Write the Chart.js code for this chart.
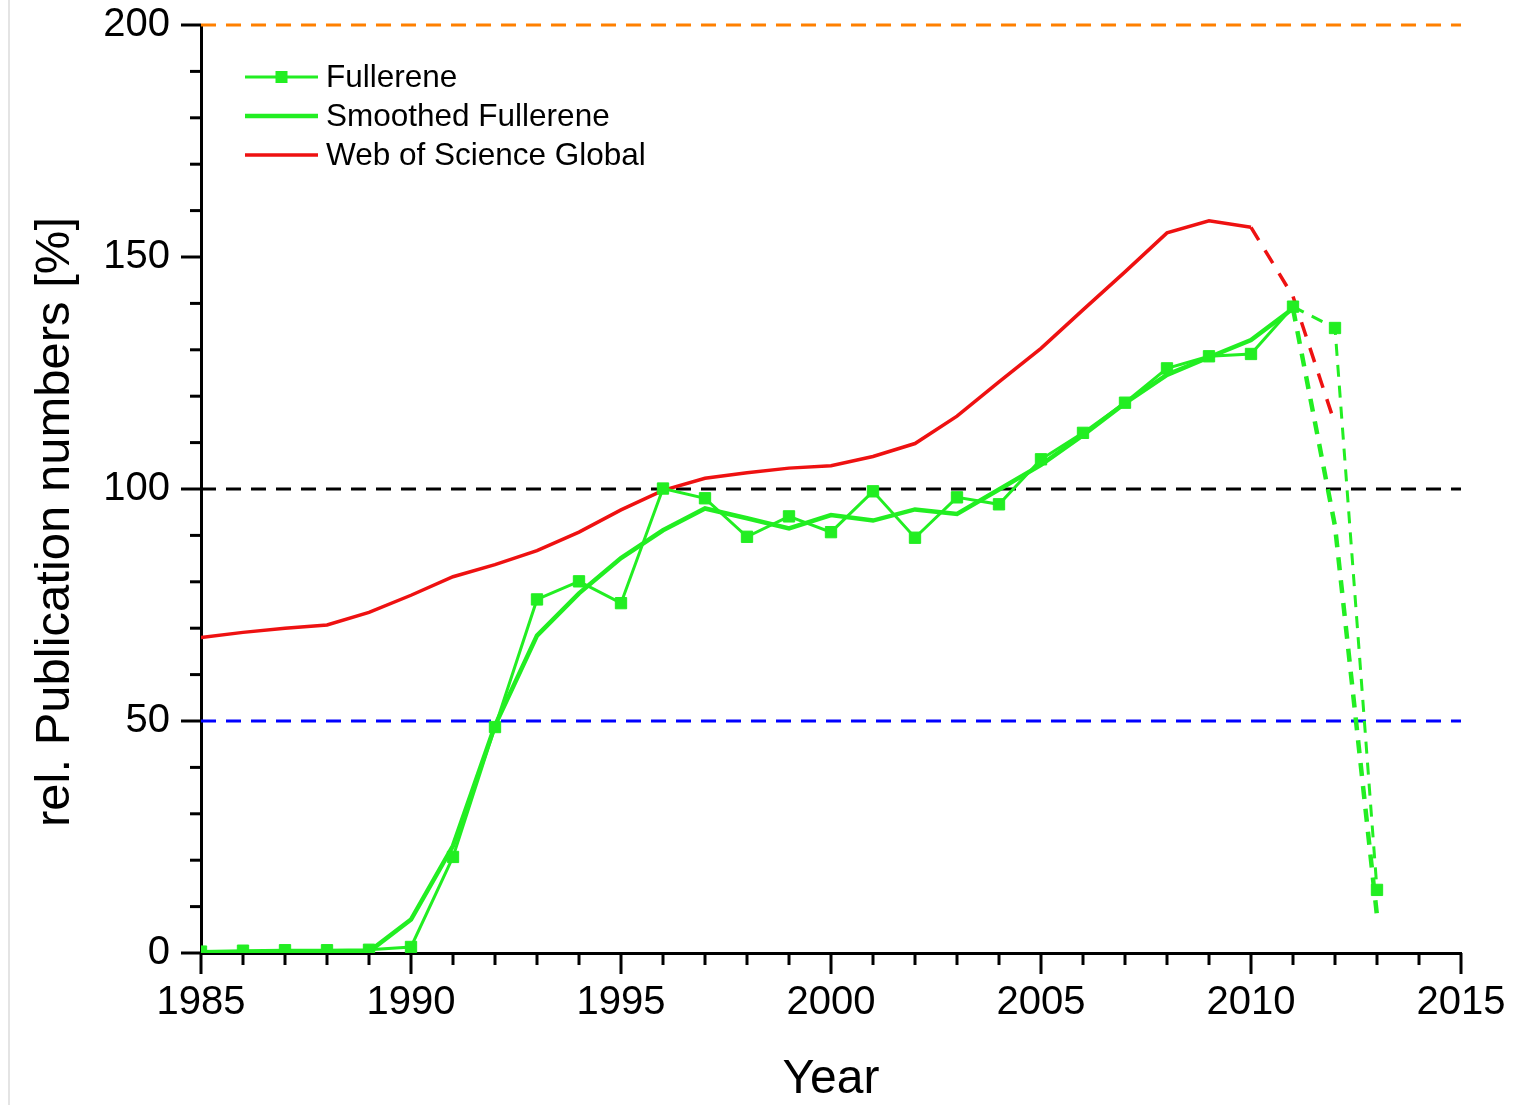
<!DOCTYPE html>
<html>
<head>
<meta charset="utf-8">
<title>rel. Publication numbers</title>
<script src="https://cdn.jsdelivr.net/npm/chart.js@4.4.1/dist/chart.umd.min.js"></script>
<style>
  html, body { margin: 0; padding: 0; background: #fff; }
  #wrap { position: relative; width: 1514px; height: 1105px; }
  #edge { position: absolute; left: 8px; top: 0; width: 2px; height: 1105px; background: #e4e4e4; }
  canvas { position: absolute; left: 0; top: 0; }
</style>
</head>
<body>
<div id="wrap">
  <div id="edge"></div>
  <canvas id="pubChart" width="1514" height="1105"></canvas>
</div>
<script>
// Jahre und Werte
const years = [
    1985, 1986, 1987, 1988, 1989, 1990, 1991, 1992, 1993, 1994,
    1995, 1996, 1997, 1998, 1999, 2000, 2001, 2002, 2003, 2004,
    2005, 2006, 2007, 2008, 2009, 2010, 2011, 2012, 2013
];

const fullerene = [
    0.3, 0.5, 0.6, 0.6, 0.7, 1.3, 20.7, 48.7, 76.2, 80.1,
    75.4, 100.1, 98.0, 89.7, 94.1, 90.7, 99.5, 89.5, 98.2, 96.7,
    106.4, 112.1, 118.6, 126.0, 128.6, 129.1, 139.3, 134.7, 13.6
];

const smoothedFullerene = [
    0, 0, 0, 0, 0.3, 7.2, 23.1, 49.0, 68.4, 77.5,
    85.1, 91.1, 95.8, 93.7, 91.5, 94.4, 93.2, 95.6, 94.6, 99.9,
    105.2, 111.6, 118.5, 124.6, 128.4, 132.1, 138.9, 92, 8
];

// Web of Science endet 2012
const wosGlobal = [
    68.0, 69.1, 70.0, 70.7, 73.4, 77.1, 81.1, 83.7, 86.7, 90.7,
    95.5, 99.7, 102.3, 103.5, 104.5, 105.0, 107.0, 109.8, 115.7, 123.1,
    130.3, 138.6, 146.8, 155.2, 157.8, 156.4, 141.5, 114.0
];

// Referenzlinien
const refLevels = [200, 100, 50];
const refColors = ['#ff8000', '#000000', '#0000ff'];

const xMin = 1985, xMax = 2015;
const yMin = 0, yMax = 200;
const fullereneDashFrom = 2011;
const wosDashFrom = 2010;

const green = '#22ee22';
const red = '#ee1111';
const fontFamily = '"Liberation Sans", Arial, sans-serif';
const yTitle = 'rel. Publication numbers [%]';

function toPoints(values) {
    return values.map((v, i) => ({ x: years[i], y: v }));
}

const legendItems = [
    { label: 'Fullerene', color: green, width: 3, marker: true },
    { label: 'Smoothed Fullerene', color: green, width: 4.5, marker: false },
    { label: 'Web of Science Global', color: red, width: 3.5, marker: false }
];

// Achsen-Ticks (gross/klein) nach aussen
const tickPlugin = {
    id: 'axisTicks',
    afterDraw(chart) {
        const { ctx, chartArea, scales } = chart;
        ctx.save();
        ctx.strokeStyle = '#000';
        ctx.lineWidth = 3;
        for (let yr = xMin; yr <= xMax; yr++) {
            const px = scales.x.getPixelForValue(yr);
            const len = (yr % 5 === 0) ? 21 : 12;
            ctx.beginPath();
            ctx.moveTo(px, chartArea.bottom);
            ctx.lineTo(px, chartArea.bottom + len);
            ctx.stroke();
        }
        for (let v = yMin; v <= yMax; v += 10) {
            const py = scales.y.getPixelForValue(v);
            const len = (v % 50 === 0) ? 20 : 11;
            ctx.beginPath();
            ctx.moveTo(chartArea.left, py);
            ctx.lineTo(chartArea.left - len, py);
            ctx.stroke();
        }
        // y-Titel, etwas unterhalb der Achsenmitte wie im Original
        ctx.translate(55, 522);
        ctx.rotate(-Math.PI / 2);
        ctx.font = '49px ' + fontFamily;
        ctx.fillStyle = '#000';
        ctx.textAlign = 'center';
        ctx.textBaseline = 'middle';
        ctx.fillText(yTitle, 0, 0);
        ctx.restore();
    }
};

// Legende innerhalb des Plotbereichs
const legendPlugin = {
    id: 'innerLegend',
    afterDraw(chart) {
        const { ctx } = chart;
        const x0 = 245, x1 = 318, textX = 326;
        let y = 77;
        ctx.save();
        ctx.font = '31.5px ' + fontFamily;
        ctx.textBaseline = 'middle';
        ctx.fillStyle = '#000';
        legendItems.forEach(item => {
            ctx.strokeStyle = item.color;
            ctx.lineWidth = item.width;
            ctx.beginPath();
            ctx.moveTo(x0, y);
            ctx.lineTo(x1, y);
            ctx.stroke();
            if (item.marker) {
                ctx.fillStyle = item.color;
                ctx.fillRect((x0 + x1) / 2 - 6, y - 6, 12, 12);
                ctx.fillStyle = '#000';
            }
            ctx.fillText(item.label, textX, y + 1);
            y += 39;
        });
        ctx.restore();
    }
};

const refDatasets = refLevels.map((lvl, i) => ({
    label: 'ref' + lvl,
    data: [{ x: xMin, y: lvl }, { x: xMax, y: lvl }],
    borderColor: refColors[i],
    borderWidth: 3,
    borderDash: [15, 10],
    pointRadius: 0,
    clip: false,
    order: 10
}));

const chart = new Chart(document.getElementById('pubChart').getContext('2d'), {
    type: 'line',
    data: {
        datasets: [
            {
                label: 'Fullerene',
                data: toPoints(fullerene),
                borderColor: green,
                backgroundColor: green,
                borderWidth: 3,
                pointStyle: 'rect',
                pointRadius: 8,
                pointBorderWidth: 1,
                pointBorderColor: green,
                segment: {
                    borderDash: c => c.p0.parsed.x >= fullereneDashFrom ? [12, 9] : undefined
                },
                order: 1
            },
            {
                label: 'Smoothed Fullerene',
                data: toPoints(smoothedFullerene),
                borderColor: green,
                borderWidth: 4.5,
                pointRadius: 0,
                segment: {
                    borderDash: c => c.p0.parsed.x >= fullereneDashFrom ? [13, 10] : undefined
                },
                order: 2
            },
            {
                label: 'Web of Science Global',
                data: toPoints(wosGlobal),
                borderColor: red,
                borderWidth: 3.5,
                pointRadius: 0,
                segment: {
                    borderDash: c => c.p0.parsed.x >= wosDashFrom ? [15, 12] : undefined
                },
                order: 3
            },
            ...refDatasets
        ]
    },
    options: {
        responsive: false,
        animation: false,
        devicePixelRatio: 1,
        layout: { padding: { top: 25, right: 53, left: 0, bottom: 0 } },
        plugins: {
            legend: { display: false },
            tooltip: { enabled: false }
        },
        scales: {
            x: {
                type: 'linear',
                min: xMin,
                max: xMax,
                grid: { display: false, drawTicks: false },
                border: { display: true, color: '#000', width: 3 },
                ticks: {
                    stepSize: 5,
                    padding: 26,
                    color: '#000',
                    font: { family: fontFamily, size: 40 },
                    maxRotation: 0,
                    callback: v => String(v)
                },
                title: {
                    display: true,
                    text: 'Year',
                    color: '#000',
                    font: { family: fontFamily, size: 48, lineHeight: 1 },
                    padding: { top: 0, bottom: 1 }
                },
                afterFit: s => {
                    s.height = 1105 - 953;
                    s.paddingLeft = 0;
                    s.paddingRight = 0;
                }
            },
            y: {
                type: 'linear',
                min: yMin,
                max: yMax,
                grid: { display: false, drawTicks: false },
                border: { display: true, color: '#000', width: 3 },
                ticks: {
                    stepSize: 50,
                    padding: 31,
                    color: '#000',
                    font: { family: fontFamily, size: 40 },
                    callback: v => String(v)
                },
                afterFit: s => {
                    s.width = 201;
                    s.paddingTop = 0;
                    s.paddingBottom = 0;
                }
            }
        }
    },
    plugins: [tickPlugin, legendPlugin]
});
</script>
</body>
</html>
